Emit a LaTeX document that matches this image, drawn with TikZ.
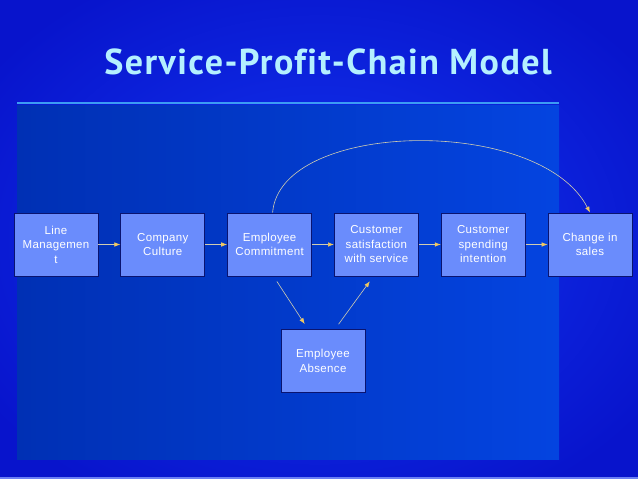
\documentclass[tikz,border=0pt]{standalone}
\usepackage{fontspec}
\setmainfont{Liberation Sans}[LetterSpace=3]
\newfontfamily\headfont{PT Sans}[Ligatures=NoCommon,LetterSpace=4]
\usetikzlibrary{positioning,arrows.meta}
\definecolor{slidebg}{HTML}{0814CC}
\definecolor{slideglow}{HTML}{1236F2}
\definecolor{panelleft}{HTML}{0030B4}
\definecolor{panelright}{HTML}{0444E0}
\definecolor{ruleblue}{HTML}{3C9CF4}
\definecolor{titlecyan}{HTML}{B4F0FF}
\definecolor{boxfill}{HTML}{6A8CFC}
\definecolor{boxline}{HTML}{0A1470}
\definecolor{linkgray}{HTML}{D0CCB0}
\definecolor{tipyellow}{HTML}{F0C860}
\definecolor{footstrip}{HTML}{6C80F4}

\begin{document}
\begin{tikzpicture}[x=1pt,y=-1pt]
\tikzset{stage/.style={draw=boxline,fill=boxfill,text=white,line width=0.8pt,minimum width=84pt,minimum height=63pt,align=center,inner sep=1pt,font=\fontsize{11.5}{14.5}\selectfont}}
\tikzset{link/.style={draw=linkgray,line width=0.6pt,-{Latex[length=6pt,width=4.5pt,color=tipyellow]}}}
\tikzset{node distance=22pt}
\useasboundingbox (0,0) rectangle (638,479);
% slide background
\fill[slidebg] (0,0) rectangle (638,479);
\shade[inner color=slideglow,outer color=slidebg] (-80,-60) rectangle (718,539);
\shade[left color=panelleft,right color=panelright] (17,105) rectangle (559,459);
\fill[footstrip] (0,477) rectangle (638,479);
\draw[ruleblue,line width=2pt] (17,103) -- (559,103);
\node[text=titlecyan,font=\headfont\bfseries\fontsize{36}{40}\selectfont] (title) at (328,62) {Service-Profit-Chain Model};
% chain
\node[stage] (line) at (56,244.5) {Line\\Managemen\\t};
\node[stage,right=of line] (culture) {Company\\Culture};
\node[stage,right=of culture] (commit) {Employee\\Commitment};
\node[stage,right=of commit] (satisf) {Customer\\satisfaction\\with service};
\node[stage,right=of satisf] (spend) {Customer\\spending\\intention};
\node[stage,right=of spend] (sales) {Change in\\sales};
\node[stage] (absence) at (323,361) {Employee\\Absence};
\draw[link] (line) -- (culture);
\draw[link] (culture) -- (commit);
\draw[link] (commit) -- (satisf);
\draw[link] (satisf) -- (spend);
\draw[link] (spend) -- (sales);
\draw[link,shorten <=6pt,shorten >=6pt] ([xshift=4pt]commit.south) -- ([xshift=-15pt]absence.north);
\draw[link,shorten <=6pt,shorten >=6pt] ([xshift=12pt]absence.north) -- ([xshift=-3pt]satisf.south);
\draw[link] ([xshift=3pt]commit.north) .. controls (280,120) and (540,115) .. (sales.north);
\end{tikzpicture}
\end{document}
